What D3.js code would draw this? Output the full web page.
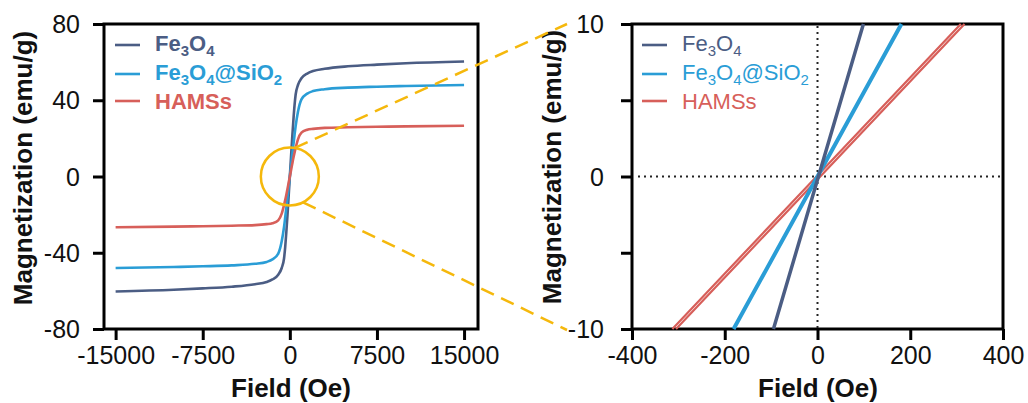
<!DOCTYPE html>
<html><head><meta charset="utf-8">
<script src="https://cdn.jsdelivr.net/npm/d3@7"></script>
<style>
html,body{margin:0;padding:0;background:#fff;}
svg{display:block;font-family:"Liberation Sans",Arial,sans-serif;}
</style></head>
<body>
<svg id="chart" width="1028" height="403"></svg>
<script>
// ---- data ----
const field = [-15000,-10000,-7500,-5000,-3000,-2000,-1500,-1000,-700,-500,-400,-300,-200,-100,0,100,200,300,400,500,700,1000,1500,2000,3000,5000,7500,10000,15000];
const mFe3O4 = [-60.3,-59.4,-58.7,-57.8,-56.5,-55.3,-54,-51.5,-48,-43,-37,-29,-20,-10,0,10,20,29,37,43,48,51.5,54,55.3,56.5,57.8,58.7,59.4,60.3];
const mSiO2  = [-48,-47.5,-47.1,-46.6,-45.8,-44.8,-43.5,-40.5,-34,-26.5,-21.5,-16.3,-11,-5.5,0,5.5,11,16.3,21.5,26.5,34,40.5,43.5,44.8,45.8,46.6,47.1,47.5,48];
const mHAMS  = [-26.6,-26.3,-26.1,-25.8,-25.5,-25,-24.5,-23,-19.5,-15,-12.4,-9.6,-6.4,-3.2,0,3.2,6.4,9.6,12.4,15,19.5,23,24.5,25,25.5,25.8,26.1,26.3,26.6];

// zoomed (low field) region
const zoomM = [-10, 0, 10];
const zoomFe3O4H = [-95, 2, 99];
const zoomSiO2H  = [-181, 0, 181];
const zoomHAMSupH   = [-313, -2, 309];
const zoomHAMSdownH = [-305, 6, 317];

const leftXTicks = [-15000,-7500,0,7500,15000];
const leftYTicks = [-80,-40,0,40,80];
const rightXTicks = [-400,-200,0,200,400];
const rightYTicks = [-10,-5,0,5,10];
const rightYLabels = [-10,0,10];

const seriesNames = ["Fe3O4","Fe3O4@SiO2","HAMSs"];
const colors = ["#4b5d84","#2a9dd6","#d75f5a"];
const yellow = "#f5b80c";

// ---- drawing ----
const svg = d3.select("#chart");
const font = '"Liberation Sans",Arial,sans-serif';

const xL = d3.scaleLinear().domain([-16000,16200]).range([104,478]);
const yL = d3.scaleLinear().domain([-80,80]).range([329,24]);
const xR = d3.scaleLinear().domain([-400,400]).range([632,1003]);
const yR = d3.scaleLinear().domain([-10,10]).range([329,24]);

function frame(x, y){
  const [x0,x1] = x.range(), [y1,y0] = y.range();
  svg.append("rect").attr("x",x0).attr("y",y0).attr("width",x1-x0).attr("height",y1-y0)
    .attr("fill","none").attr("stroke","#000").attr("stroke-width",3);
}
function axes(x, y, xt, yt, ylabels, ypad){
  const gx = svg.append("g").attr("transform",`translate(0,${y.range()[0]})`)
    .call(d3.axisBottom(x).tickValues(xt).tickSize(11).tickSizeOuter(0).tickFormat(d => String(d)));
  const gy = svg.append("g").attr("transform",`translate(${x.range()[0]},0)`)
    .call(d3.axisLeft(y).tickValues(yt).tickSize(11).tickSizeOuter(0).tickPadding(ypad)
      .tickFormat(d => ylabels.includes(d) ? String(d) : ""));
  [gx,gy].forEach(g=>{
    g.select(".domain").remove();
    g.selectAll(".tick line").attr("stroke","#000").attr("stroke-width",3);
    g.selectAll(".tick text").attr("fill","#111").style("font-family",font).style("font-size","25px");
  });
  gx.selectAll(".tick text").attr("y",35).attr("dy","0");
  gy.selectAll(".tick text").attr("dy","0.34em");
}

frame(xL,yL);
axes(xL,yL,leftXTicks,leftYTicks,leftYTicks,13);
frame(xR,yR);
axes(xR,yR,rightXTicks,rightYTicks,rightYLabels,17);

// axis titles
function titles(cx, ylx, cy){
  svg.append("text").attr("x",cx).attr("y",397).attr("text-anchor","middle")
    .style("font-size","26px").style("font-weight","bold").attr("fill","#111").text("Field (Oe)");
  svg.append("text").attr("transform",`translate(${ylx},${cy}) rotate(-90)`).attr("text-anchor","middle")
    .style("font-size","26px").style("font-weight","bold").attr("fill","#111").text("Magnetization (emu/g)");
}
titles(291,32,168);
titles(818,561,167);

// dotted zero lines in zoom plot
svg.append("line").attr("x1",xR(0)).attr("x2",xR(0)).attr("y1",yR(10)+2).attr("y2",yR(-10))
  .attr("stroke","#222").attr("stroke-width",2).attr("stroke-dasharray","2,4");
svg.append("line").attr("x1",xR(-400)+6).attr("x2",xR(400)).attr("y1",yR(0)).attr("y2",yR(0))
  .attr("stroke","#222").attr("stroke-width",2).attr("stroke-dasharray","2,4");

// left curves
const lineL = d3.line().x(d=>xL(d[0])).y(d=>yL(d[1])).curve(d3.curveMonotoneX);
[mFe3O4,mSiO2,mHAMS].forEach((m,i)=>{
  svg.append("path").datum(field.map((h,k)=>[h,m[k]])).attr("d",lineL)
    .attr("fill","none").attr("stroke",colors[i]).attr("stroke-width",2.6);
});

// right curves
const lineR = d3.line().x(d=>xR(d[0])).y(d=>yR(d[1]));
function zl(H, c, w){
  svg.append("path").datum(H.map((h,k)=>[h,zoomM[k]])).attr("d",lineR)
    .attr("fill","none").attr("stroke",c).attr("stroke-width",w);
}
zl(zoomHAMSupH, colors[2], 2.2);
zl(zoomHAMSdownH, colors[2], 2.2);
zl(zoomSiO2H, colors[1], 4);
zl(zoomFe3O4H, colors[0], 3.5);

// legends
function legend(x0, bold){
  const ys = [45,74,101], bs = [51,80,109];
  seriesNames.forEach((n,i)=>{
    svg.append("line").attr("x1",x0).attr("x2",x0+25).attr("y1",ys[i]).attr("y2",ys[i])
      .attr("stroke",colors[i]).attr("stroke-width",2.6);
    const t = svg.append("text").attr("x",x0+40).attr("y",bs[i]).attr("fill",colors[i])
      .style("font-size","22px").style("font-weight",bold?"bold":"normal");
    if(n==="HAMSs"){ t.text(n); return; }
    t.append("tspan").text("Fe");
    t.append("tspan").attr("dy",5).style("font-size","15px").text("3");
    t.append("tspan").attr("dy",-5).text("O");
    t.append("tspan").attr("dy",5).style("font-size","15px").text("4");
    if(n==="Fe3O4@SiO2"){
      t.append("tspan").attr("dy",-5).text("@SiO");
      t.append("tspan").attr("dy",5).style("font-size","15px").text("2");
    }
  });
}
legend(115,true);
legend(642,false);

// zoom annotation
const cx = xL(0), cy = yL(0), r = 29;
svg.append("circle").attr("cx",cx).attr("cy",cy).attr("r",r)
  .attr("fill","none").attr("stroke",yellow).attr("stroke-width",2.5);
const a1 = -80*Math.PI/180, a2 = 63*Math.PI/180;
const ex = xR.range()[0]-65;
svg.append("line").attr("x1",cx+r*Math.cos(a1)).attr("y1",cy+r*Math.sin(a1))
  .attr("x2",ex).attr("y2",yR(10)).attr("stroke",yellow).attr("stroke-width",2.5).attr("stroke-dasharray","14,8");
svg.append("line").attr("x1",cx+r*Math.cos(a2)).attr("y1",cy+r*Math.sin(a2))
  .attr("x2",ex).attr("y2",yR(-10)+1).attr("stroke",yellow).attr("stroke-width",2.5).attr("stroke-dasharray","14,8");
</script>
</body></html>
